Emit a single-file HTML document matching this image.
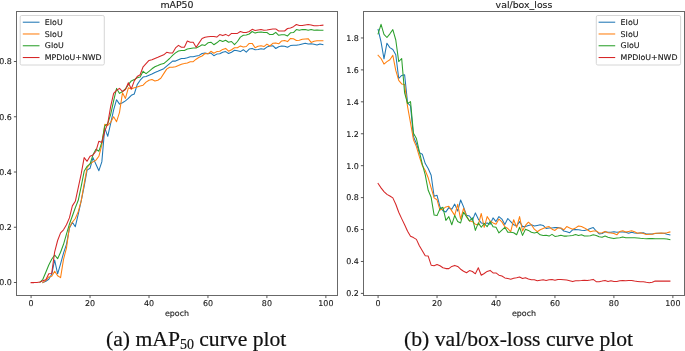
<!DOCTYPE html>
<html><head><meta charset="utf-8"><title>curve plots</title>
<style>
html,body{margin:0;padding:0;background:#fff;}
body{width:685px;height:351px;overflow:hidden;position:relative;}
svg{position:absolute;left:0;top:0;display:block;}
svg text{font-family:"DejaVu Sans","Liberation Sans",sans-serif;fill:#1a1a1a;stroke:#1a1a1a;stroke-width:0.13px;}
.cap{position:absolute;top:324.0px;-webkit-text-stroke:0.2px #111;font-family:"Liberation Serif","Times New Roman",serif;font-size:21.65px;color:#111;white-space:nowrap;line-height:30px;}
.cap sub{font-size:13.9px;vertical-align:baseline;position:relative;top:3.3px;line-height:0;}
</style></head><body>
<svg width="685" height="351" viewBox="0 0 685 351">
<rect width="685" height="351" fill="#fff"/>
<text x="177.0" y="7.8" font-size="9.4" text-anchor="middle">mAP50</text>
<polyline points="42.88,282.6 45.83,281.3 48.78,279.3 51.72,274.3 54.67,260.0 57.62,273.8 60.57,263.8 63.52,253.1 66.46,244.3 69.41,228.3 72.36,222.3 75.31,226.7 78.25,214.1 81.20,200.9 84.15,186.3 87.10,170.1 90.04,168.3 92.99,157.6 95.94,164.3 98.89,170.7 101.83,161.9 104.78,127.8 107.73,136.3 110.68,123.3 113.63,109.8 116.57,99.7 119.52,104.1 122.47,102.8 125.42,100.9 128.36,98.4 131.31,95.3 134.26,94.0 137.21,84.6 140.15,80.2 143.10,77.1 146.05,76.5 149.00,75.2 151.94,74.0 154.89,72.5 157.84,71.3 160.79,70.0 163.74,68.7 166.68,66.1 169.63,63.6 172.58,61.1 175.53,61.1 178.47,59.8 181.42,58.5 184.37,58.5 187.32,57.7 190.26,56.7 193.21,56.7 196.16,56.0 199.11,55.4 202.06,53.5 205.00,52.9 207.95,53.8 210.90,53.1 213.85,55.7 216.79,54.1 219.74,53.8 222.69,52.2 225.64,51.6 228.58,53.5 231.53,52.2 234.48,50.3 237.43,50.7 240.37,51.6 243.32,49.7 246.27,52.2 249.22,49.1 252.17,48.4 255.11,49.7 258.06,49.4 261.01,48.7 263.96,49.2 266.90,47.1 269.85,46.1 272.80,45.7 275.75,48.5 278.69,46.7 281.64,46.0 284.59,46.2 287.54,47.3 290.48,45.6 293.43,45.3 296.38,45.2 299.33,44.7 302.28,43.9 305.22,43.3 308.17,43.9 311.12,43.7 314.07,44.3 317.01,44.9 319.96,43.9 322.91,44.7" fill="none" stroke="#1f77b4" stroke-width="1.05" stroke-linejoin="round" stroke-linecap="square"/>
<polyline points="42.88,282.6 45.83,280.3 48.78,276.9 51.72,276.3 54.67,271.3 57.62,275.7 60.57,277.6 63.52,259.3 66.46,248.1 69.41,227.3 72.36,222.3 75.31,218.5 78.25,211.6 81.20,200.8 84.15,183.9 87.10,167.6 90.04,163.8 92.99,161.9 95.94,160.1 98.89,156.3 101.83,144.9 104.78,124.2 107.73,125.5 110.68,122.3 113.63,116.7 116.57,121.7 119.52,112.3 122.47,92.8 125.42,98.4 128.36,87.8 131.31,89.0 134.26,87.8 137.21,87.1 140.15,85.9 143.10,85.2 146.05,82.1 149.00,80.2 151.94,79.6 154.89,80.9 157.84,80.2 160.79,78.3 163.74,73.6 166.68,69.1 169.63,67.3 172.58,67.3 175.53,66.7 178.47,65.5 181.42,64.2 184.37,63.6 187.32,62.9 190.26,61.7 193.21,61.7 196.16,59.2 199.11,57.3 202.06,56.0 205.00,53.5 207.95,53.8 210.90,51.3 213.85,53.2 216.79,51.6 219.74,51.2 222.69,49.4 225.64,48.4 228.58,51.2 231.53,49.7 234.48,47.8 237.43,47.8 240.37,45.9 243.32,46.9 246.27,46.5 249.22,43.4 252.17,43.4 255.11,47.8 258.06,46.3 261.01,45.7 263.96,46.6 266.90,44.1 269.85,46.0 272.80,43.3 275.75,42.9 278.69,43.8 281.64,40.9 284.59,40.5 287.54,41.6 290.48,38.4 293.43,38.7 296.38,40.5 299.33,40.2 302.28,39.3 305.22,39.0 308.17,38.7 311.12,42.4 314.07,41.2 317.01,40.8 319.96,40.8 322.91,40.8" fill="none" stroke="#ff7f0e" stroke-width="1.05" stroke-linejoin="round" stroke-linecap="square"/>
<polyline points="39.93,282.3 42.88,279.3 45.83,272.3 48.78,265.0 51.72,259.3 54.67,255.0 57.62,258.7 60.57,252.3 63.52,244.3 66.46,234.2 69.41,224.2 72.36,216.0 75.31,207.8 78.25,200.3 81.20,186.3 84.15,171.3 87.10,166.3 90.04,163.8 92.99,154.8 95.94,149.3 98.89,151.2 101.83,142.3 104.78,126.1 107.73,123.6 110.68,114.3 113.63,100.9 116.57,88.4 119.52,93.4 122.47,91.5 125.42,89.0 128.36,84.6 131.31,80.9 134.26,79.6 137.21,77.7 140.15,77.1 143.10,71.3 146.05,73.7 149.00,71.3 151.94,68.8 154.89,66.7 157.84,65.5 160.79,64.2 163.74,63.6 166.68,61.1 169.63,58.5 172.58,55.4 175.53,52.9 178.47,51.0 181.42,50.4 184.37,50.4 187.32,49.1 190.26,48.5 193.21,47.9 196.16,47.9 199.11,46.6 202.06,44.7 205.00,45.4 207.95,42.8 210.90,42.2 213.85,44.7 216.79,42.8 219.74,40.3 222.69,41.5 225.64,40.3 228.58,42.2 231.53,41.5 234.48,44.7 237.43,41.5 240.37,37.1 243.32,35.2 246.27,35.0 249.22,34.0 252.17,31.5 255.11,33.1 258.06,32.2 261.01,31.9 263.96,32.5 266.90,32.5 269.85,34.6 272.80,34.5 275.75,32.3 278.69,35.3 281.64,34.8 284.59,34.8 287.54,35.9 290.48,32.8 293.43,32.6 296.38,29.6 299.33,30.3 302.28,29.6 305.22,29.6 308.17,30.3 311.12,29.6 314.07,30.3 317.01,29.9 319.96,30.3 322.91,30.3" fill="none" stroke="#2ca02c" stroke-width="1.05" stroke-linejoin="round" stroke-linecap="square"/>
<polyline points="31.09,282.6 34.04,282.6 36.99,282.5 39.93,282.1 42.88,280.7 45.83,279.8 48.78,273.8 51.72,273.4 54.67,251.8 57.62,240.5 60.57,232.9 63.52,229.8 66.46,224.8 69.41,217.9 72.36,205.9 75.31,201.3 78.25,187.7 81.20,173.9 84.15,157.6 87.10,161.3 90.04,156.3 92.99,155.0 95.94,151.2 98.89,141.2 101.83,142.4 104.78,131.1 107.73,123.6 110.68,106.3 113.63,93.4 116.57,90.3 119.52,88.4 122.47,91.5 125.42,89.6 128.36,82.7 131.31,89.0 134.26,80.9 137.21,76.5 140.15,74.8 143.10,66.8 146.05,63.6 149.00,60.4 151.94,59.8 154.89,58.5 157.84,57.3 160.79,56.0 163.74,54.8 166.68,52.3 169.63,52.9 172.58,52.9 175.53,47.9 178.47,45.4 181.42,47.2 184.37,47.2 187.32,41.0 190.26,42.2 193.21,42.2 196.16,47.2 199.11,42.9 202.06,38.5 205.00,37.2 207.95,36.8 210.90,36.6 213.85,36.5 216.79,37.1 219.74,34.6 222.69,35.6 225.64,34.4 228.58,35.9 231.53,33.4 234.48,33.6 237.43,33.4 240.37,31.5 243.32,32.4 246.27,32.4 249.22,31.5 252.17,29.3 255.11,30.5 258.06,29.9 261.01,29.5 263.96,30.2 266.90,30.0 269.85,29.4 272.80,28.9 275.75,28.9 278.69,31.0 281.64,31.1 284.59,31.0 287.54,28.5 290.48,27.9 293.43,26.7 296.38,24.5 299.33,25.5 302.28,25.5 305.22,24.9 308.17,24.6 311.12,24.9 314.07,25.7 317.01,25.7 319.96,25.5 322.91,25.2" fill="none" stroke="#d62728" stroke-width="1.05" stroke-linejoin="round" stroke-linecap="square"/>
<rect x="16.5" y="11.5" width="321.00" height="284.00" fill="none" stroke="#686868" stroke-width="1"/>
<line x1="31.09" y1="295.5" x2="31.09" y2="298.1" stroke="#444" stroke-width="0.9"/>
<text x="31.09" y="305.6" font-size="7.95" text-anchor="middle">0</text>
<line x1="90.04" y1="295.5" x2="90.04" y2="298.1" stroke="#444" stroke-width="0.9"/>
<text x="90.04" y="305.6" font-size="7.95" text-anchor="middle">20</text>
<line x1="149.00" y1="295.5" x2="149.00" y2="298.1" stroke="#444" stroke-width="0.9"/>
<text x="149.00" y="305.6" font-size="7.95" text-anchor="middle">40</text>
<line x1="207.95" y1="295.5" x2="207.95" y2="298.1" stroke="#444" stroke-width="0.9"/>
<text x="207.95" y="305.6" font-size="7.95" text-anchor="middle">60</text>
<line x1="266.90" y1="295.5" x2="266.90" y2="298.1" stroke="#444" stroke-width="0.9"/>
<text x="266.90" y="305.6" font-size="7.95" text-anchor="middle">80</text>
<line x1="325.86" y1="295.5" x2="325.86" y2="298.1" stroke="#444" stroke-width="0.9"/>
<text x="325.86" y="305.6" font-size="7.95" text-anchor="middle">100</text>
<text x="177.0" y="315.6" font-size="7.95" text-anchor="middle">epoch</text>
<line x1="13.9" y1="282.50" x2="16.5" y2="282.50" stroke="#444" stroke-width="0.9"/>
<text x="11.90" y="285.35" font-size="7.95" text-anchor="end">0.0</text>
<line x1="13.9" y1="227.25" x2="16.5" y2="227.25" stroke="#444" stroke-width="0.9"/>
<text x="11.90" y="230.10" font-size="7.95" text-anchor="end">0.2</text>
<line x1="13.9" y1="172.00" x2="16.5" y2="172.00" stroke="#444" stroke-width="0.9"/>
<text x="11.90" y="174.85" font-size="7.95" text-anchor="end">0.4</text>
<line x1="13.9" y1="116.75" x2="16.5" y2="116.75" stroke="#444" stroke-width="0.9"/>
<text x="11.90" y="119.60" font-size="7.95" text-anchor="end">0.6</text>
<line x1="13.9" y1="61.50" x2="16.5" y2="61.50" stroke="#444" stroke-width="0.9"/>
<text x="11.90" y="64.35" font-size="7.95" text-anchor="end">0.8</text>
<rect x="20.2" y="15.5" width="84.1" height="49.5" rx="1.5" ry="1.5" fill="#fff" fill-opacity="0.8" stroke="#ccc" stroke-width="0.8"/>
<line x1="22.8" y1="22.20" x2="39.5" y2="22.20" stroke="#1f77b4" stroke-width="1.05"/>
<text x="44.8" y="24.90" font-size="7.88">EIoU</text>
<line x1="22.8" y1="33.98" x2="39.5" y2="33.98" stroke="#ff7f0e" stroke-width="1.05"/>
<text x="44.8" y="36.68" font-size="7.88">SIoU</text>
<line x1="22.8" y1="45.76" x2="39.5" y2="45.76" stroke="#2ca02c" stroke-width="1.05"/>
<text x="44.8" y="48.46" font-size="7.88">GIoU</text>
<line x1="22.8" y1="57.54" x2="39.5" y2="57.54" stroke="#d62728" stroke-width="1.05"/>
<text x="44.8" y="60.24" font-size="7.88">MPDIoU+NWD</text>
<text x="524.0" y="7.8" font-size="9.4" text-anchor="middle">val/box_loss</text>
<polyline points="378.09,29.4 381.04,41.9 383.99,58.8 386.93,43.2 389.88,47.6 392.83,49.5 395.78,54.7 398.72,78.5 401.67,75.4 404.62,74.8 407.57,102.9 410.52,106.0 413.46,136.6 416.41,143.5 419.36,152.6 422.31,154.2 425.25,163.6 428.20,168.5 431.15,175.3 434.10,196.3 437.04,195.3 439.99,206.8 442.94,210.7 445.89,211.9 448.83,207.6 451.78,209.3 454.73,204.1 457.68,211.1 460.63,200.0 463.57,206.9 466.52,215.3 469.47,216.0 472.42,220.4 475.36,212.9 478.31,219.1 481.26,222.9 484.21,223.5 487.15,222.9 490.10,224.2 493.05,217.9 496.00,221.6 498.94,216.6 501.89,219.1 504.84,224.4 507.79,218.5 510.74,221.6 513.68,224.8 516.63,226.0 519.58,221.6 522.53,226.6 525.47,226.6 528.42,225.4 531.37,224.8 534.32,226.0 537.26,225.4 540.21,224.8 543.16,225.4 546.11,228.5 549.06,227.9 552.00,227.9 554.95,227.6 557.90,227.6 560.85,228.2 563.79,231.0 566.74,231.7 569.69,232.7 572.64,229.8 575.58,229.4 578.53,229.8 581.48,230.2 584.43,230.4 587.37,229.8 590.32,228.5 593.27,227.6 596.22,231.0 599.17,233.9 602.11,233.5 605.06,231.7 608.01,232.3 610.96,232.3 613.90,231.7 616.85,232.3 619.80,231.9 622.75,231.9 625.69,232.3 628.64,233.2 631.59,232.3 634.54,232.9 637.48,233.2 640.43,232.9 643.38,232.7 646.33,233.9 649.28,233.9 652.22,233.9 655.17,233.5 658.12,233.2 661.07,233.2 664.01,233.2 666.96,234.2 669.91,234.8" fill="none" stroke="#1f77b4" stroke-width="1.05" stroke-linejoin="round" stroke-linecap="square"/>
<polyline points="378.09,55.3 381.04,58.5 383.99,64.1 386.93,61.6 389.88,59.7 392.83,55.3 395.78,70.4 398.72,80.4 401.67,83.9 404.62,84.6 407.57,106.6 410.52,122.9 413.46,139.7 416.41,146.6 419.36,156.7 422.31,165.5 425.25,170.5 428.20,177.8 431.15,187.9 434.10,197.9 437.04,199.8 439.99,210.1 442.94,209.1 445.89,206.9 448.83,206.3 451.78,210.9 454.73,215.4 457.68,204.3 460.63,219.1 463.57,208.3 466.52,216.0 469.47,221.0 472.42,221.6 475.36,224.2 478.31,224.8 481.26,213.5 484.21,227.3 487.15,216.6 490.10,221.0 493.05,222.9 496.00,224.2 498.94,219.1 501.89,221.9 504.84,226.6 507.79,228.5 510.74,231.7 513.68,219.7 516.63,227.3 519.58,216.6 522.53,231.0 525.47,225.4 528.42,222.2 531.37,224.8 534.32,229.2 537.26,231.7 540.21,229.8 543.16,228.5 546.11,227.3 549.06,226.6 552.00,229.2 554.95,230.4 557.90,227.9 560.85,227.9 563.79,229.8 566.74,226.6 569.69,227.9 572.64,229.2 575.58,227.9 578.53,226.0 581.48,226.6 584.43,227.9 587.37,229.8 590.32,231.7 593.27,231.0 596.22,231.0 599.17,232.9 602.11,232.7 605.06,231.4 608.01,232.7 610.96,232.9 613.90,233.5 616.85,234.8 619.80,231.4 622.75,230.8 625.69,232.0 628.64,231.4 631.59,230.8 634.54,231.7 637.48,233.2 640.43,232.7 643.38,233.5 646.33,234.4 649.28,234.2 652.22,234.2 655.17,233.2 658.12,233.2 661.07,232.9 664.01,233.2 666.96,232.7 669.91,232.0" fill="none" stroke="#ff7f0e" stroke-width="1.05" stroke-linejoin="round" stroke-linecap="square"/>
<polyline points="378.09,33.8 381.04,24.3 383.99,34.4 386.93,37.5 389.88,33.8 392.83,29.6 395.78,40.0 398.72,61.6 401.67,58.5 404.62,92.9 407.57,103.5 410.52,101.6 413.46,133.3 416.41,138.5 419.36,151.6 422.31,164.2 425.25,174.8 428.20,190.3 431.15,197.3 434.10,215.1 437.04,215.6 439.99,208.8 442.94,207.3 445.89,220.4 448.83,216.6 451.78,224.8 454.73,215.4 457.68,221.6 460.63,222.9 463.57,212.2 466.52,216.6 469.47,221.0 472.42,217.9 475.36,230.4 478.31,222.9 481.26,227.3 484.21,223.5 487.15,226.7 490.10,221.6 493.05,226.7 496.00,227.3 498.94,232.9 501.89,230.1 504.84,227.3 507.79,232.3 510.74,232.3 513.68,232.7 516.63,234.8 519.58,227.3 522.53,235.4 525.47,229.2 528.42,230.4 531.37,232.3 534.32,232.9 537.26,232.3 540.21,234.8 543.16,235.4 546.11,235.2 549.06,236.1 552.00,234.4 554.95,236.4 557.90,236.1 560.85,235.2 563.79,236.1 566.74,236.1 569.69,235.8 572.64,235.4 575.58,234.6 578.53,235.4 581.48,234.8 584.43,236.1 587.37,235.9 590.32,235.7 593.27,234.8 596.22,235.4 599.17,236.7 602.11,237.3 605.06,236.1 608.01,237.3 610.96,237.9 613.90,238.6 616.85,237.9 619.80,237.7 622.75,236.9 625.69,237.7 628.64,237.7 631.59,237.7 634.54,237.7 637.48,237.9 640.43,238.3 643.38,238.6 646.33,238.8 649.28,238.6 652.22,238.6 655.17,238.8 658.12,238.8 661.07,238.8 664.01,238.8 666.96,238.9 669.91,239.6" fill="none" stroke="#2ca02c" stroke-width="1.05" stroke-linejoin="round" stroke-linecap="square"/>
<polyline points="378.09,183.5 381.04,187.9 383.99,191.6 386.93,194.4 389.88,196.0 392.83,197.9 395.78,204.2 398.72,212.3 401.67,218.6 404.62,224.8 407.57,231.3 410.52,236.3 413.46,237.6 416.41,239.4 419.36,245.7 422.31,250.7 425.25,255.8 428.20,256.1 431.15,265.2 434.10,265.8 437.04,264.5 439.99,265.8 442.94,267.7 445.89,268.6 448.83,268.6 451.78,266.4 454.73,265.4 457.68,266.4 460.63,269.2 463.57,271.2 466.52,272.7 469.47,270.6 472.42,271.5 475.36,273.8 478.31,267.8 481.26,275.3 484.21,273.5 487.15,271.4 490.10,270.4 493.05,272.9 496.00,272.9 498.94,275.2 501.89,276.0 504.84,277.9 507.79,278.5 510.74,279.2 513.68,278.2 516.63,277.7 519.58,277.0 522.53,278.5 525.47,277.7 528.42,278.9 531.37,279.8 534.32,279.8 537.26,280.7 540.21,280.2 543.16,279.8 546.11,280.4 549.06,279.8 552.00,279.6 554.95,280.2 557.90,279.4 560.85,279.6 563.79,279.8 566.74,280.1 569.69,280.8 572.64,281.6 575.58,280.8 578.53,280.8 581.48,280.6 584.43,280.3 587.37,280.5 590.32,280.1 593.27,279.4 596.22,281.7 599.17,281.7 602.11,281.1 605.06,280.4 608.01,281.4 610.96,280.8 613.90,281.4 616.85,281.4 619.80,280.7 622.75,280.4 625.69,280.7 628.64,280.4 631.59,280.4 634.54,281.1 637.48,281.4 640.43,281.7 643.38,281.7 646.33,282.3 649.28,282.7 652.22,282.3 655.17,281.1 658.12,281.1 661.07,281.1 664.01,281.1 666.96,281.1 669.91,281.1" fill="none" stroke="#d62728" stroke-width="1.05" stroke-linejoin="round" stroke-linecap="square"/>
<rect x="363.5" y="11.5" width="321.00" height="284.00" fill="none" stroke="#686868" stroke-width="1"/>
<line x1="378.09" y1="295.5" x2="378.09" y2="298.1" stroke="#444" stroke-width="0.9"/>
<text x="378.09" y="305.6" font-size="7.95" text-anchor="middle">0</text>
<line x1="437.04" y1="295.5" x2="437.04" y2="298.1" stroke="#444" stroke-width="0.9"/>
<text x="437.04" y="305.6" font-size="7.95" text-anchor="middle">20</text>
<line x1="496.00" y1="295.5" x2="496.00" y2="298.1" stroke="#444" stroke-width="0.9"/>
<text x="496.00" y="305.6" font-size="7.95" text-anchor="middle">40</text>
<line x1="554.95" y1="295.5" x2="554.95" y2="298.1" stroke="#444" stroke-width="0.9"/>
<text x="554.95" y="305.6" font-size="7.95" text-anchor="middle">60</text>
<line x1="613.90" y1="295.5" x2="613.90" y2="298.1" stroke="#444" stroke-width="0.9"/>
<text x="613.90" y="305.6" font-size="7.95" text-anchor="middle">80</text>
<line x1="672.86" y1="295.5" x2="672.86" y2="298.1" stroke="#444" stroke-width="0.9"/>
<text x="672.86" y="305.6" font-size="7.95" text-anchor="middle">100</text>
<text x="524.0" y="315.6" font-size="7.95" text-anchor="middle">epoch</text>
<line x1="360.9" y1="293.40" x2="363.5" y2="293.40" stroke="#444" stroke-width="0.9"/>
<text x="358.90" y="296.25" font-size="7.95" text-anchor="end">0.2</text>
<line x1="360.9" y1="261.47" x2="363.5" y2="261.47" stroke="#444" stroke-width="0.9"/>
<text x="358.90" y="264.32" font-size="7.95" text-anchor="end">0.4</text>
<line x1="360.9" y1="229.54" x2="363.5" y2="229.54" stroke="#444" stroke-width="0.9"/>
<text x="358.90" y="232.39" font-size="7.95" text-anchor="end">0.6</text>
<line x1="360.9" y1="197.61" x2="363.5" y2="197.61" stroke="#444" stroke-width="0.9"/>
<text x="358.90" y="200.46" font-size="7.95" text-anchor="end">0.8</text>
<line x1="360.9" y1="165.68" x2="363.5" y2="165.68" stroke="#444" stroke-width="0.9"/>
<text x="358.90" y="168.53" font-size="7.95" text-anchor="end">1.0</text>
<line x1="360.9" y1="133.75" x2="363.5" y2="133.75" stroke="#444" stroke-width="0.9"/>
<text x="358.90" y="136.60" font-size="7.95" text-anchor="end">1.2</text>
<line x1="360.9" y1="101.82" x2="363.5" y2="101.82" stroke="#444" stroke-width="0.9"/>
<text x="358.90" y="104.67" font-size="7.95" text-anchor="end">1.4</text>
<line x1="360.9" y1="69.89" x2="363.5" y2="69.89" stroke="#444" stroke-width="0.9"/>
<text x="358.90" y="72.74" font-size="7.95" text-anchor="end">1.6</text>
<line x1="360.9" y1="37.96" x2="363.5" y2="37.96" stroke="#444" stroke-width="0.9"/>
<text x="358.90" y="40.81" font-size="7.95" text-anchor="end">1.8</text>
<rect x="596.3" y="15.5" width="84.3" height="49.5" rx="1.5" ry="1.5" fill="#fff" fill-opacity="0.8" stroke="#ccc" stroke-width="0.8"/>
<line x1="598.6" y1="22.20" x2="615.2" y2="22.20" stroke="#1f77b4" stroke-width="1.05"/>
<text x="620.6" y="24.90" font-size="7.88">EIoU</text>
<line x1="598.6" y1="33.98" x2="615.2" y2="33.98" stroke="#ff7f0e" stroke-width="1.05"/>
<text x="620.6" y="36.68" font-size="7.88">SIoU</text>
<line x1="598.6" y1="45.76" x2="615.2" y2="45.76" stroke="#2ca02c" stroke-width="1.05"/>
<text x="620.6" y="48.46" font-size="7.88">GIoU</text>
<line x1="598.6" y1="57.54" x2="615.2" y2="57.54" stroke="#d62728" stroke-width="1.05"/>
<text x="620.6" y="60.24" font-size="7.88">MPDIoU+NWD</text>
</svg>
<div class="cap" style="left:106.0px;">(a) mAP<sub>50</sub> curve plot</div>
<div class="cap" style="left:404.1px;">(b) val/box-loss curve plot</div>
</body></html>
